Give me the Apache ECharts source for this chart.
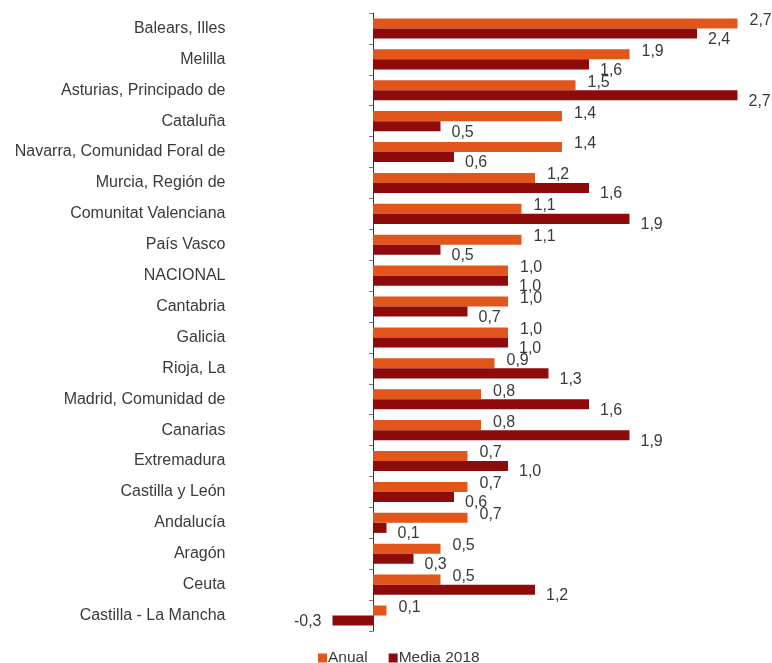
<!DOCTYPE html>
<html>
<head>
<meta charset="utf-8">
<script src="https://cdn.jsdelivr.net/npm/echarts@6/dist/echarts.min.js"></script>
<style>
html,body{margin:0;padding:0;background:#fff;}
#c{width:772px;height:663px;}
</style>
</head>
<body>
<div id="c"></div>
<script>
var categories = ["Balears, Illes","Melilla","Asturias, Principado de","Cataluña","Navarra, Comunidad Foral de","Murcia, Región de","Comunitat Valenciana","País Vasco","NACIONAL","Cantabria","Galicia","Rioja, La","Madrid, Comunidad de","Canarias","Extremadura","Castilla y León","Andalucía","Aragón","Ceuta","Castilla - La Mancha"];
var anual = [2.7,1.9,1.5,1.4,1.4,1.2,1.1,1.1,1.0,1.0,1.0,0.9,0.8,0.8,0.7,0.7,0.7,0.5,0.5,0.1];
var media2018 = [2.4,1.6,2.7,0.5,0.6,1.6,1.9,0.5,1.0,0.7,1.0,1.3,1.6,1.9,1.0,0.6,0.1,0.3,1.2,-0.3];
var seriesNames = ["Anual","Media 2018"];

var FONT = 'Arial, "Liberation Sans", sans-serif';
var LABEL_COLOR = '#3a3a3a';
var fmt = function(p){ return Number(p.value).toFixed(1).replace('.', ','); };
function withNegLabels(arr, offY){
  return arr.map(function(v){
    if (v < 0) return {value:v, label:{position:'left', distance:11, offset:[0,offY]}};
    return v;
  });
}
var chart = echarts.init(document.getElementById('c'), null, {renderer:'canvas'});
chart.setOption({
  animation:false,
  textStyle:{fontFamily:FONT},
  grid:{left:332.5, right:7.5, top:13, bottom:32, containLabel:false},
  legend:{
    data:seriesNames, top:645, left:313, itemWidth:9, itemHeight:9, itemGap:21,
    icon:'rect',
    textStyle:{fontFamily:FONT, fontSize:15.5, color:LABEL_COLOR, padding:[0,0,0,-4]}
  },
  xAxis:{type:'value', min:-0.3, max:2.9, show:false, splitLine:{show:false}},
  yAxis:{
    type:'category', data:categories, inverse:true,
    axisLine:{onZero:true, lineStyle:{color:'#333', width:1}},
    axisTick:{show:true, length:4, lineStyle:{color:'#777'}},
    axisLabel:{interval:0, margin:107, fontFamily:FONT, fontSize:16, color:LABEL_COLOR}
  },
  series:[
    {name:seriesNames[0], type:'bar', data:withNegLabels(anual,-3), barGap:'0%', barCategoryGap:'35%',
     itemStyle:{color:'#E2561B'},
     label:{show:true, position:'right', distance:12, offset:[0,-3], formatter:fmt, fontFamily:FONT, fontSize:16, color:LABEL_COLOR}},
    {name:seriesNames[1], type:'bar', data:withNegLabels(media2018,1), barGap:'0%', barCategoryGap:'35%',
     itemStyle:{color:'#8E0B0B'},
     label:{show:true, position:'right', distance:11, offset:[0,6], formatter:fmt, fontFamily:FONT, fontSize:16, color:LABEL_COLOR}}
  ]
});
</script>
</body>
</html>
